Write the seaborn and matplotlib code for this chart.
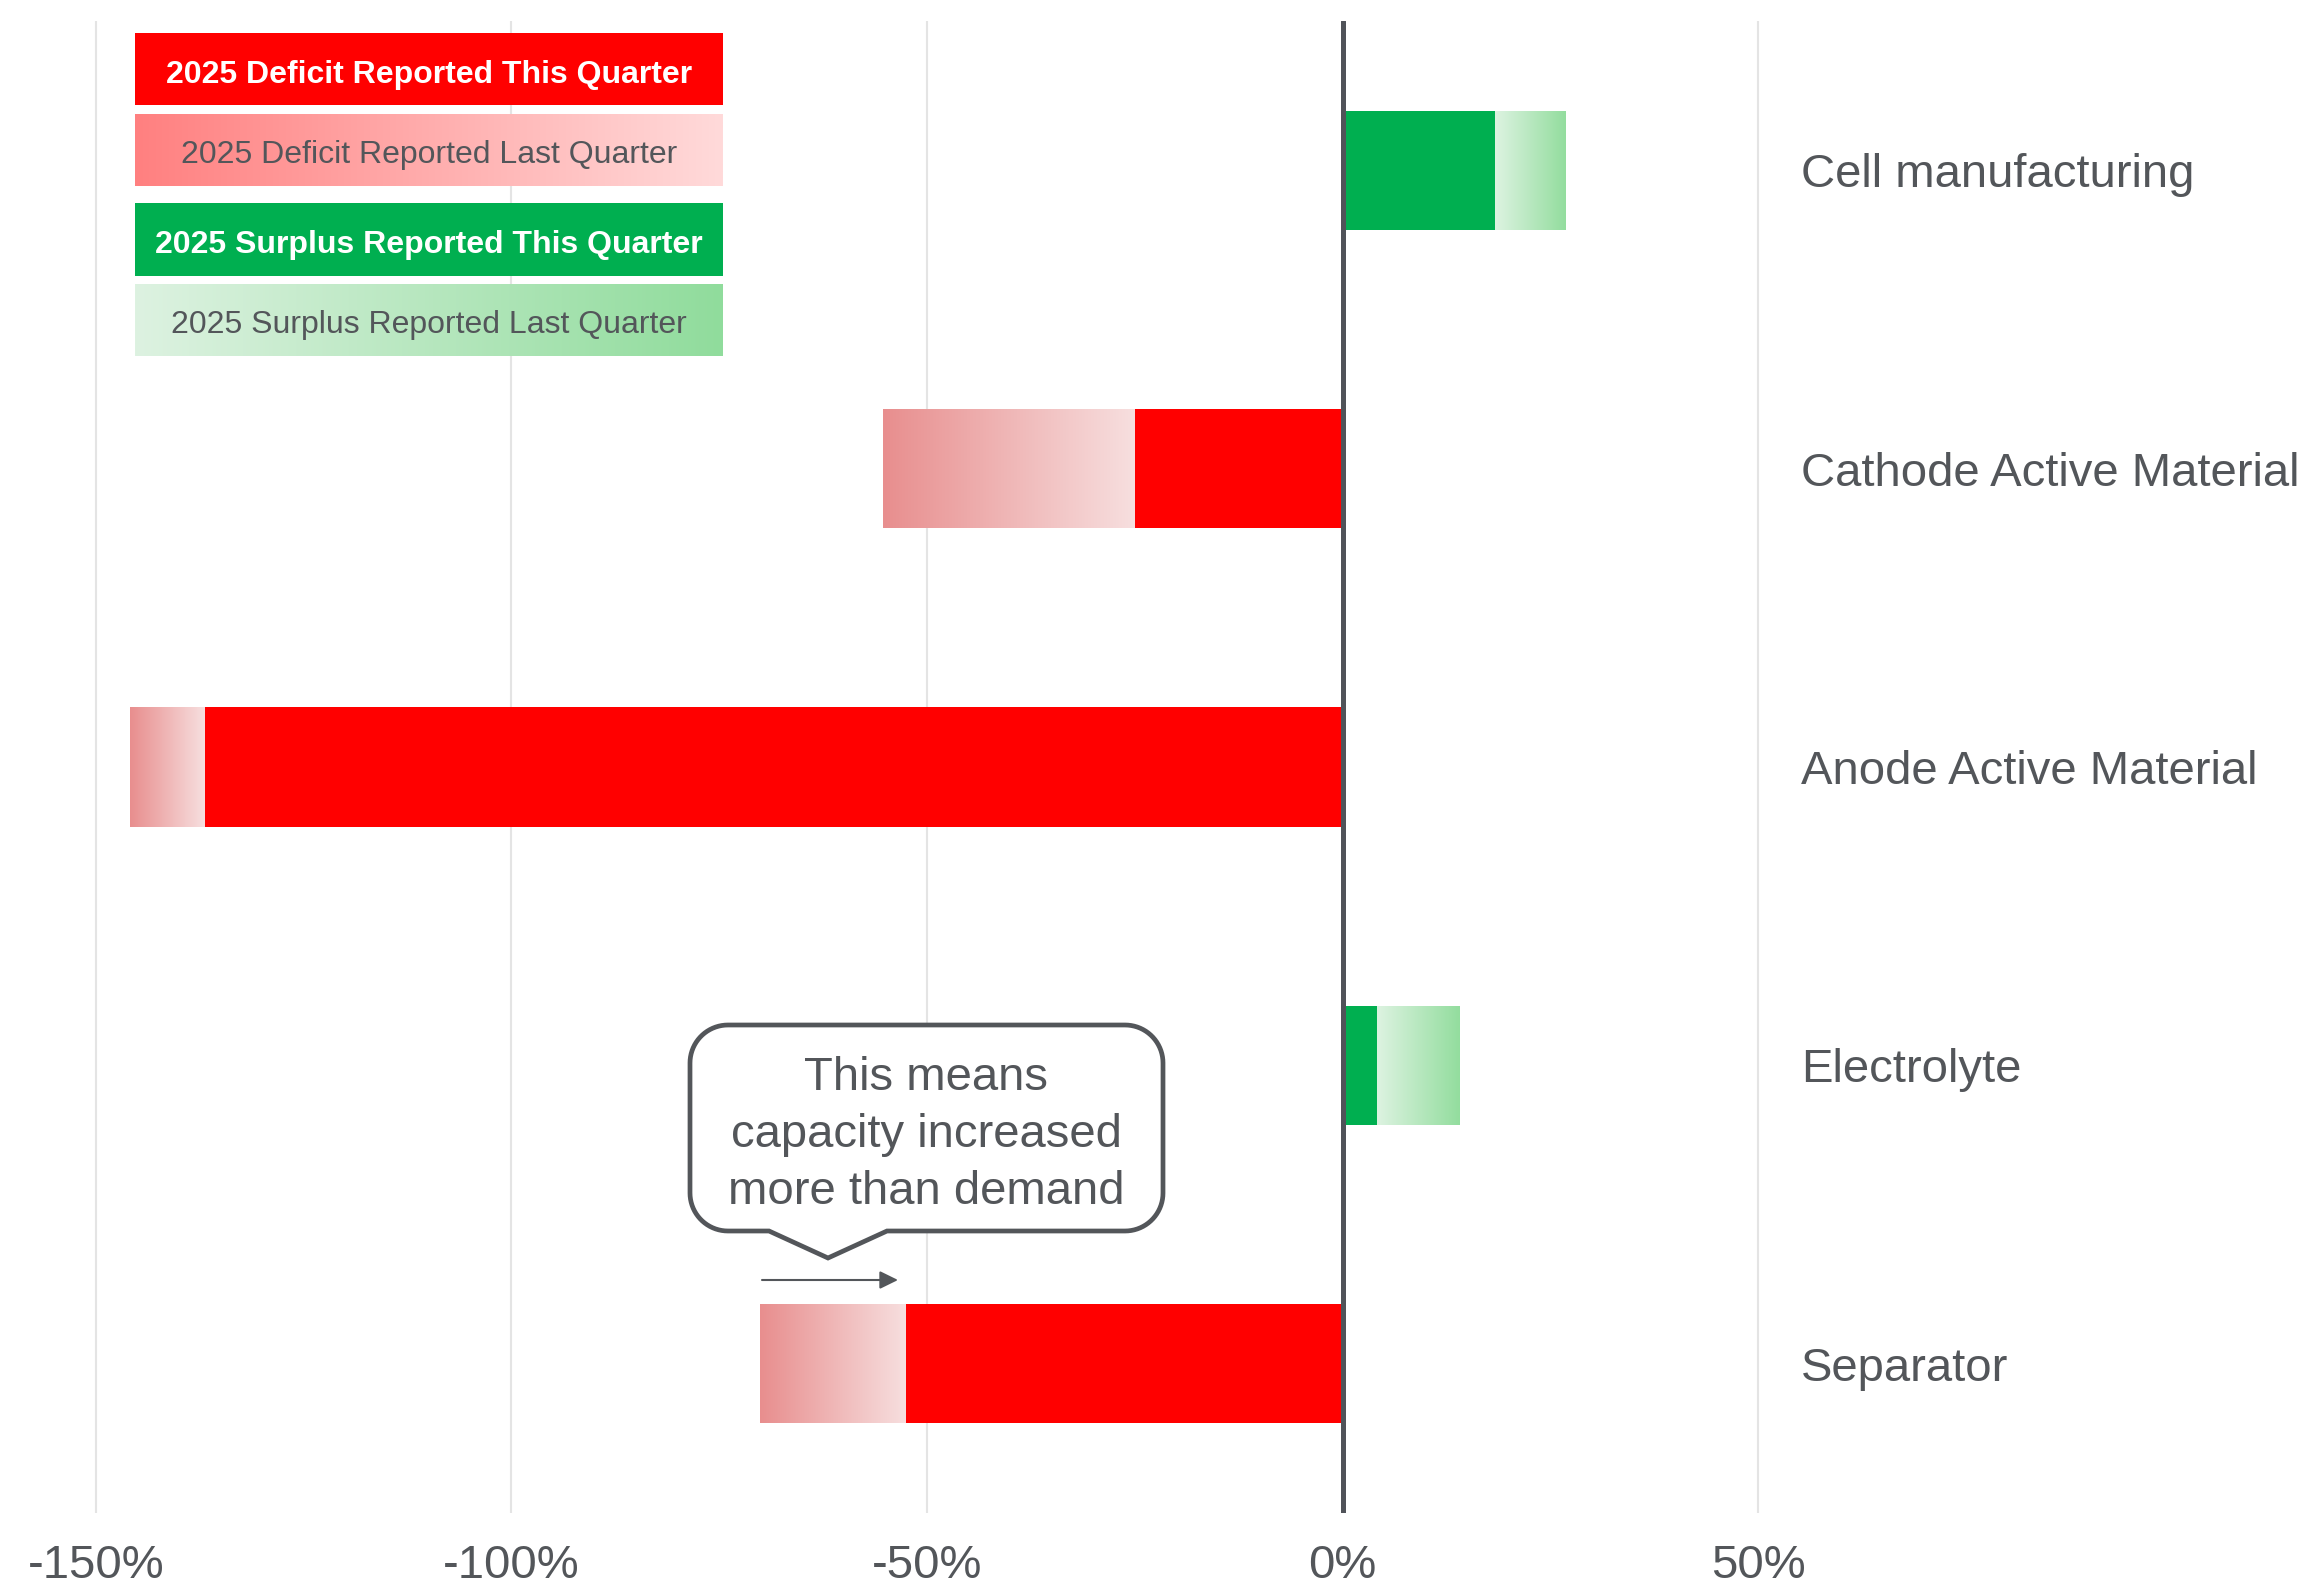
import numpy as np
import pandas as pd
import matplotlib
matplotlib.use("Agg")
import matplotlib.pyplot as plt
import seaborn as sns
from matplotlib.colors import LinearSegmentedColormap
from matplotlib.path import Path
from matplotlib.patches import PathPatch, Rectangle

# ---------------- data ----------------
categories = ["Cell manufacturing", "Cathode Active Material", "Anode Active Material",
              "Electrolyte", "Separator"]
this_quarter = [18.3, -25.0, -136.9, 4.2, -52.5]
last_quarter = [26.8, -55.3, -145.9, 14.1, -70.1]
x_ticks = [-150, -100, -50, 0, 50]
x_tick_labels = ["-150%", "-100%", "-50%", "0%", "50%"]
legend_labels = ["2025 Deficit Reported This Quarter", "2025 Deficit Reported Last Quarter",
                 "2025 Surplus Reported This Quarter", "2025 Surplus Reported Last Quarter"]
annotation_text = "This means\ncapacity increased\nmore than demand"

# ---------------- style ----------------
W, H = 2315, 1589
RED = "#FF0000"
GREEN = "#00AF50"
GRAY = "#53565A"
AXIS = "#505359"
GRID = "#E4E4E4"
red_grad = LinearSegmentedColormap.from_list("rg", ["#F7DFDF", "#E88E8E"])    # inner -> outer
green_grad = LinearSegmentedColormap.from_list("gg", ["#DDF3E1", "#93DD9E"])  # inner -> outer
leg_red_grad = LinearSegmentedColormap.from_list("lrg", ["#FF8080", "#FFDADA"])
leg_green_grad = LinearSegmentedColormap.from_list("lgg", ["#DDF2E1", "#90DC9C"])

sns.set_theme(style="white")
plt.rcParams["font.family"] = ["Liberation Sans", "DejaVu Sans"]

fig = plt.figure(figsize=(W / 100, H / 100), dpi=100)
pxu = 8.32  # pixels per percent
left_px, right_px = 96 - pxu, 1758 + pxu
ax = fig.add_axes([left_px / W, 1 - 1513 / H, (right_px - left_px) / W, (1513 - 21) / H])

df = pd.DataFrame({"category": categories, "this": this_quarter, "last": last_quarter})

# last-quarter bars (used as clip shapes for gradients)
n0 = len(ax.patches)
sns.barplot(data=df, y="category", x="last", orient="h", width=0.4, color="white",
            saturation=1, errorbar=None, linewidth=0, ax=ax)
last_patches = ax.patches[n0:]
n1 = len(ax.patches)

# this-quarter bars
this_colors = {c: (RED if v < 0 else GREEN) for c, v in zip(categories, this_quarter)}
sns.barplot(data=df, y="category", x="this", orient="h", width=0.4, hue="category",
            palette=this_colors, saturation=1, legend=False, errorbar=None, linewidth=0, ax=ax)
this_patches = ax.patches[n1:]
for p in this_patches:
    p.set_zorder(3)

grad = np.linspace(0, 1, 256).reshape(1, -1)
for p, tv, lv in zip(last_patches, this_quarter, last_quarter):
    p.set_facecolor("none")
    p.set_edgecolor("none")
    y0 = p.get_y()
    h = p.get_height()
    if lv < 0:
        cmap = red_grad
        img = grad[:, ::-1]
    else:
        cmap = green_grad
        img = grad
    im = ax.imshow(img, cmap=cmap, aspect="auto", extent=[min(tv, lv), max(tv, lv), y0 + h, y0],
                   zorder=2, interpolation="bilinear")
    im.set_clip_path(p)

ax.set_xlim(-151, 51)
ax.set_ylim(4.5, -0.5)
ax.set_xticks(x_ticks)
ax.set_xticklabels(x_tick_labels)
ax.grid(axis="x", color=GRID, lw=1.5, zorder=0)
ax.grid(axis="y", visible=False)
ax.set_axisbelow(True)
ax.axvline(0, color=AXIS, lw=3.6, zorder=5)
ax.yaxis.tick_right()
ax.tick_params(axis="y", length=0, pad=25, labelsize=34, labelcolor=GRAY)
ax.tick_params(axis="x", length=0, pad=22, labelsize=34, labelcolor=GRAY)
for t in ax.get_yticklabels():
    t.set_va("center_baseline")
ax.set_xlabel("")
ax.set_ylabel("")
for s in ax.spines.values():
    s.set_visible(False)

# ---------------- overlay (legend + callout) in pixel coords ----------------
lax = fig.add_axes([0, 0, 1, 1], zorder=10)
lax.set_xlim(0, W)
lax.set_ylim(H, 0)
lax.axis("off")

lx0, lx1 = 135, 723
rows = [(33, 105), (114, 186), (203, 276), (284, 356)]
styles = [("solid", RED, "white", "bold"),
          ("grad", leg_red_grad, GRAY, "normal"),
          ("solid", GREEN, "white", "bold"),
          ("grad", leg_green_grad, GRAY, "normal")]
for (ya, yb), (kind, col, tcol, fw), lab in zip(rows, styles, legend_labels):
    if kind == "solid":
        lax.add_patch(Rectangle((lx0, ya), lx1 - lx0, yb - ya, facecolor=col, edgecolor="none"))
    else:
        lax.imshow(grad, cmap=col, aspect="auto", extent=[lx0, lx1, yb, ya], interpolation="bilinear")
    lax.text((lx0 + lx1) / 2, (ya + yb) / 2 + 2, lab, ha="center", va="center_baseline",
             fontsize=23, color=tcol, fontweight=fw)
lax.set_xlim(0, W)
lax.set_ylim(H, 0)

# callout box
bx0, bx1, by0, by1, r = 690, 1163, 1025, 1231, 38
pb0, pb1, tipx, tipy = 769, 887, 828, 1258


def arc(cx, cy, a0, a1, n=20):
    t = np.linspace(np.radians(a0), np.radians(a1), n)
    return list(zip(cx + r * np.cos(t), cy + r * np.sin(t)))


pts = []
pts += [(bx0 + r, by0), (bx1 - r, by0)]
pts += arc(bx1 - r, by0 + r, -90, 0)
pts += [(bx1, by1 - r)]
pts += arc(bx1 - r, by1 - r, 0, 90)
pts += [(pb1, by1), (tipx, tipy), (pb0, by1), (bx0 + r, by1)]
pts += arc(bx0 + r, by1 - r, 90, 180)
pts += [(bx0, by0 + r)]
pts += arc(bx0 + r, by0 + r, 180, 270)
pts.append(pts[0])
codes = [Path.MOVETO] + [Path.LINETO] * (len(pts) - 2) + [Path.CLOSEPOLY]
lax.add_patch(PathPatch(Path(pts, codes), facecolor="white", edgecolor=GRAY, lw=3.4,
                        joinstyle="miter"))
lax.text((bx0 + bx1) / 2, 1135, annotation_text, ha="center", va="center",
         multialignment="center", fontsize=34, color=GRAY, linespacing=1.38)

lax.annotate("", xy=(898, 1280), xytext=(762, 1280),
             arrowprops=dict(arrowstyle="-|>,head_length=0.55,head_width=0.27", color=GRAY,
                             lw=1.5, mutation_scale=20, shrinkA=0, shrinkB=0))

fig.savefig("out.png", dpi=100, facecolor="white")
